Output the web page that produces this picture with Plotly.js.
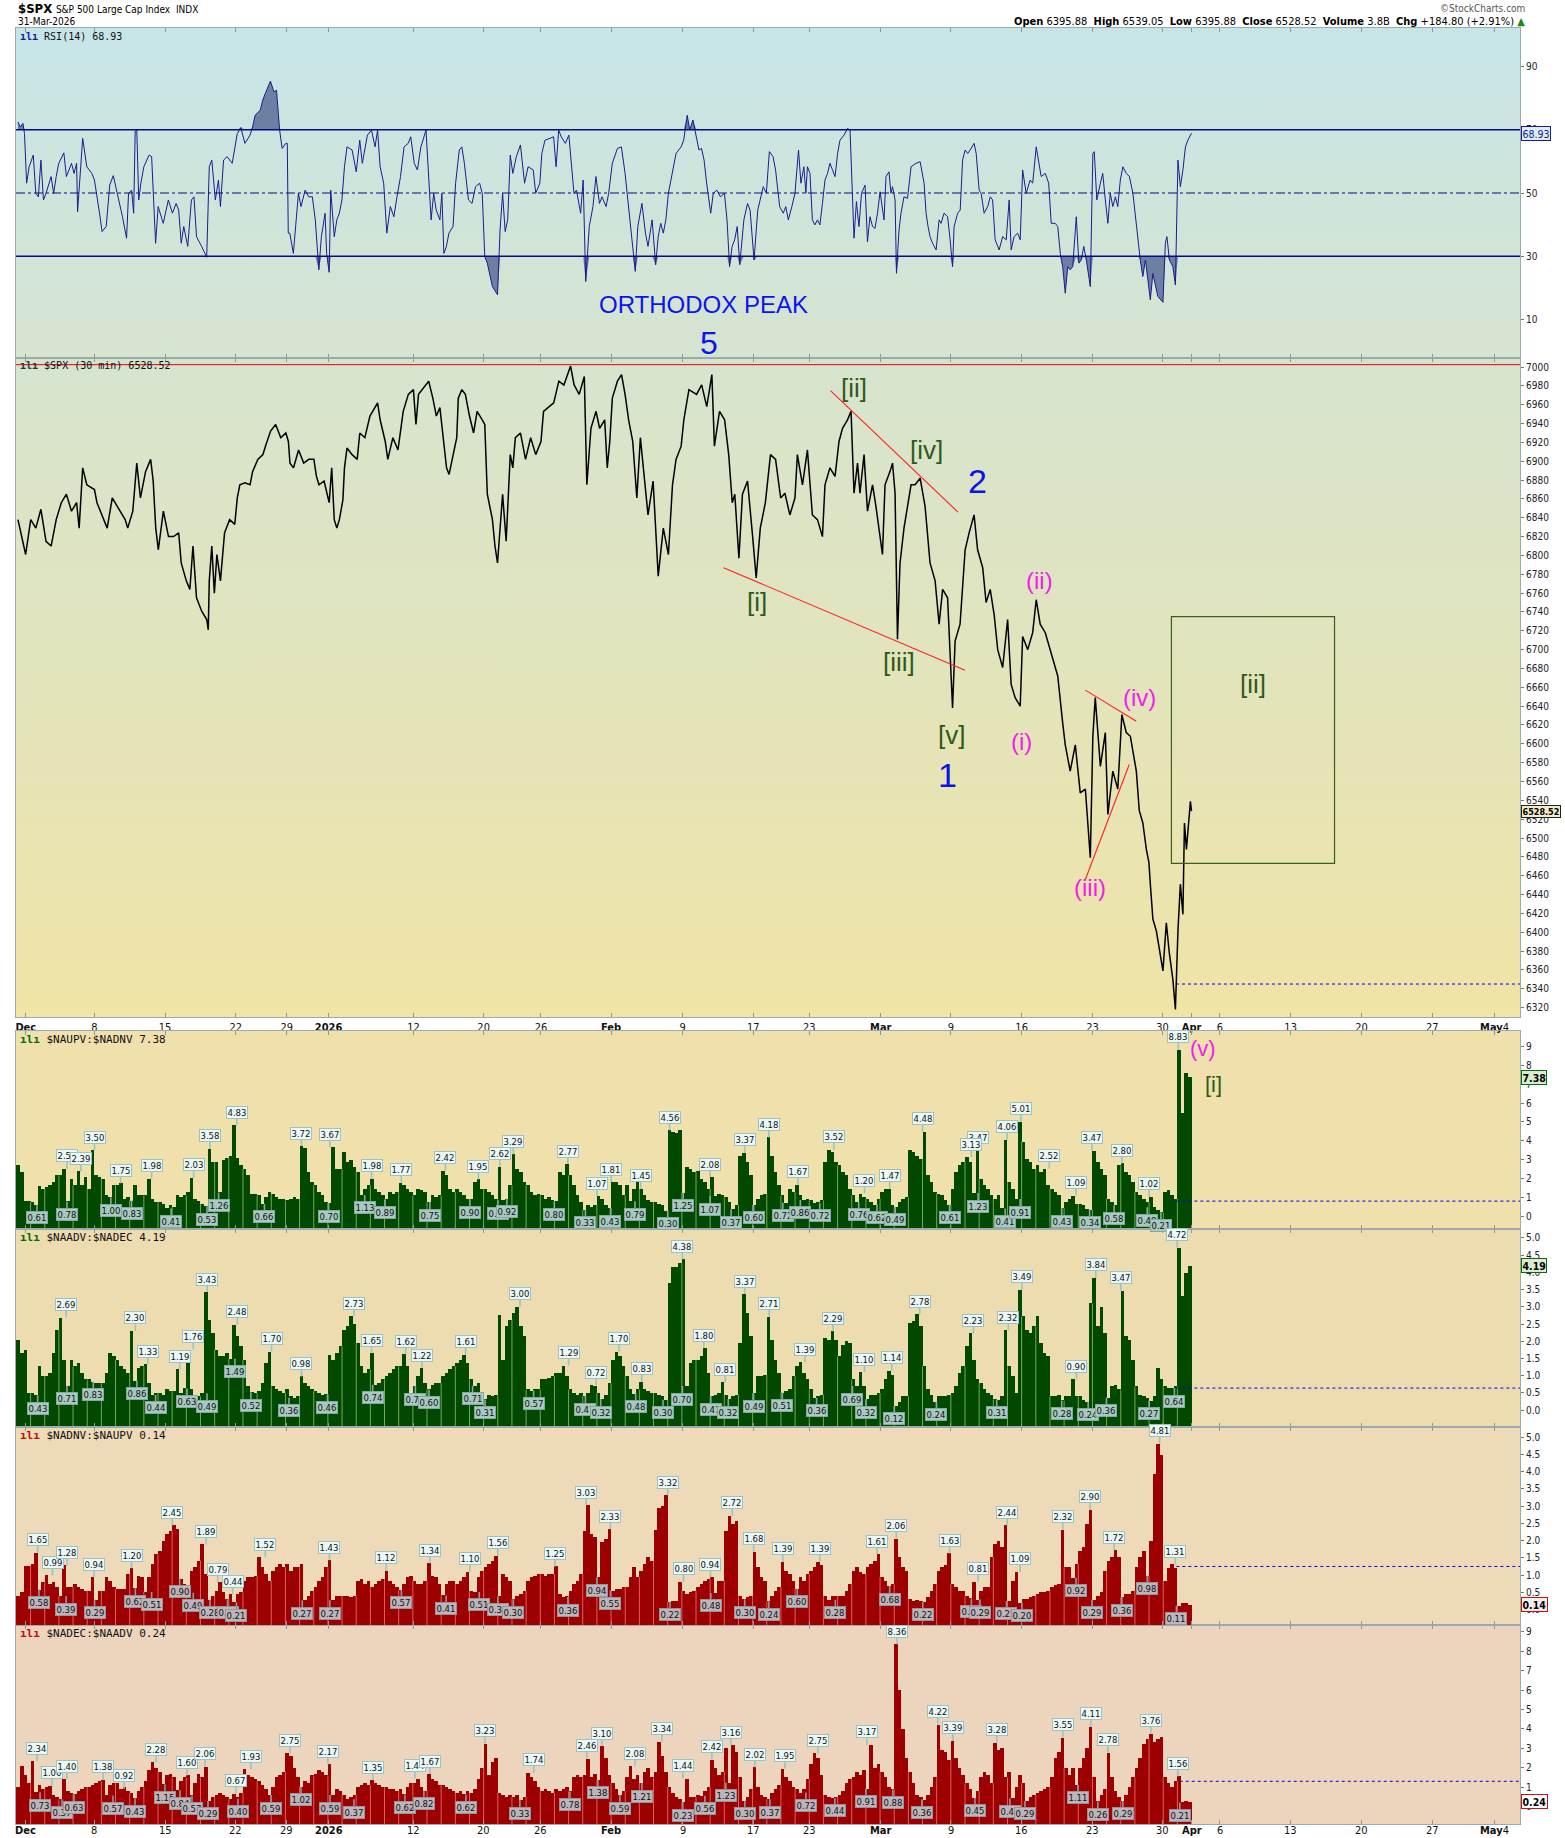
<!DOCTYPE html>
<html><head><meta charset="utf-8">
<script src="https://cdn.plot.ly/plotly-3.0.1.min.js"></script>
<style>html,body{margin:0;padding:0;background:#fff}#chart{width:1565px;height:1838px}</style>
</head><body><div id="chart"></div>
<script>
// ---------------- DATA (x in trading-day units from Dec 1, 2025) ----------------
const tickPos = [0.66,5.5,10.5,15.5,19.1,22.05,28.05,33.0,37.05,42.0,47.05,52.05,56.0,61.05,66.0,71.0,76.0,80.95,83.0,85.0,90.0,95.0,100.0,104.4];
const tickLbl = ['<b>Dec</b>','8','15','22','29','<b>2026</b>','12','20','26','<b>Feb</b>','9','17','23','<b>Mar</b>','9','16','23','30','<b>Apr</b>','6','13','20','27','<b>May</b>4'];

const spxPts = [[0.11,6838],[0.65,6801],[1.01,6838],[1.37,6829],[1.73,6849],[2.09,6815],[2.45,6810],[2.81,6838],[3.17,6856],[3.53,6865],[3.89,6847],[4.25,6856],[4.43,6829],[4.68,6893],[4.97,6875],[5.51,6870],[5.69,6856],[6.05,6843],[6.41,6829],[6.77,6861],[7.14,6852],[7.68,6838],[7.86,6829],[8.22,6847],[8.50,6898],[8.76,6861],[9.12,6889],[9.48,6902],[9.66,6879],[9.84,6829],[10.02,6806],[10.38,6847],[10.74,6820],[11.10,6820],[11.46,6824],[11.64,6792],[12.0,6773],[12.25,6764],[12.47,6810],[12.72,6755],[13.08,6741],[13.44,6732],[13.55,6721],[13.62,6773],[13.80,6810],[13.98,6760],[14.16,6801],[14.41,6773],[14.70,6824],[15.06,6838],[15.42,6833],[15.60,6861],[15.78,6875],[16.14,6877],[16.50,6875],[16.68,6889],[17.05,6902],[17.41,6907],[17.59,6916],[17.95,6932],[18.31,6939],[18.67,6925],[19.03,6930],[19.21,6921],[19.32,6898],[19.57,6893],[19.93,6912],[20.29,6898],[20.65,6902],[21.01,6902],[21.19,6884],[21.37,6875],[21.73,6879],[22.09,6856],[22.27,6893],[22.45,6838],[22.63,6829],[22.81,6838],[23.06,6859],[23.17,6893],[23.35,6914],[23.71,6907],[24.07,6902],[24.25,6930],[24.61,6925],[24.97,6948],[25.51,6962],[25.69,6944],[26.05,6921],[26.23,6902],[26.59,6925],[26.95,6912],[27.32,6953],[27.68,6971],[28.04,6976],[28.22,6939],[28.40,6971],[28.94,6981],[29.12,6985],[29.41,6967],[29.66,6948],[29.91,6957],[30.13,6930],[30.38,6893],[30.56,6886],[30.85,6907],[31.10,6925],[31.21,6967],[31.46,6976],[31.71,6971],[32.00,6948],[32.29,6930],[32.54,6953],[32.90,6944],[33.08,6939],[33.26,6865],[33.62,6838],[33.80,6810],[33.98,6792],[34.34,6865],[34.59,6815],[34.88,6907],[35.06,6893],[35.24,6925],[35.60,6930],[35.96,6902],[36.32,6925],[36.68,6907],[37.05,6921],[37.23,6953],[37.59,6958],[37.95,6962],[38.31,6985],[38.67,6981],[39.14,7001],[39.39,6981],[39.75,6971],[40.11,6990],[40.29,6875],[40.58,6935],[40.94,6953],[41.19,6935],[41.55,6944],[41.73,6893],[41.91,6921],[42.09,6967],[42.45,6985],[42.74,6992],[42.99,6971],[43.24,6944],[43.53,6921],[43.82,6861],[44.07,6925],[44.43,6875],[44.61,6843],[44.97,6879],[45.33,6778],[45.69,6829],[46.05,6801],[46.34,6875],[46.59,6902],[46.95,6916],[47.14,6944],[47.50,6976],[48.04,6971],[48.40,6981],[48.76,6958],[49.12,6992],[49.30,6916],[49.66,6953],[50.02,6944],[50.31,6907],[50.56,6856],[50.74,6865],[51.03,6797],[51.28,6865],[51.64,6879],[52.0,6820],[52.25,6776],[52.54,6829],[52.90,6856],[53.26,6907],[53.62,6902],[53.98,6861],[54.28,6866],[54.63,6843],[54.99,6861],[55.16,6907],[55.52,6875],[55.87,6912],[56.22,6843],[56.58,6838],[56.93,6820],[57.11,6875],[57.46,6893],[57.82,6884],[58.10,6921],[58.35,6935],[58.70,6944],[58.95,6953],[59.16,6866],[59.41,6898],[59.58,6866],[59.87,6907],[60.11,6847],[60.47,6875],[60.71,6852],[61.17,6801],[61.35,6875],[61.70,6889],[61.88,6898],[62.06,6866],[62.23,6711],[62.41,6792],[62.69,6829],[62.94,6852],[63.19,6875],[63.47,6875],[63.83,6882],[64.18,6852],[64.53,6792],[64.89,6773],[65.17,6727],[65.42,6764],[65.77,6755],[66.12,6638],[66.30,6709],[66.65,6727],[67.01,6806],[67.29,6824],[67.64,6843],[67.89,6806],[68.25,6787],[68.49,6750],[68.78,6764],[69.06,6737],[69.31,6700],[69.66,6681],[70.01,6732],[70.26,6663],[70.54,6649],[70.90,6640],[71.07,6714],[71.43,6700],[71.78,6718],[72.03,6753],[72.31,6727],[72.67,6718],[73.02,6700],[73.20,6691],[73.55,6672],[73.90,6622],[74.08,6599],[74.43,6571],[74.79,6599],[75.14,6548],[75.50,6552],[75.85,6479],[76.03,6608],[76.20,6649],[76.56,6576],[76.91,6612],[77.09,6525],[77.44,6571],[77.79,6552],[78.08,6631],[78.39,6612],[78.68,6608],[78.93,6585],[79.10,6571],[79.31,6529],[79.56,6516],[79.81,6488],[79.99,6474],[80.09,6451],[80.27,6414],[80.52,6401],[80.80,6373],[80.98,6359],[81.22,6410],[81.43,6378],[81.68,6350],[81.86,6318],[82.04,6401],[82.21,6451],[82.39,6419],[82.50,6516],[82.64,6488],[82.85,6525],[82.92,6539],[83.0,6528.52]];

const rsiPts = [[0.10,72.5],[0.28,70.9],[0.46,72.0],[0.57,68.8],[0.72,53.1],[0.90,58.3],[1.19,62.0],[1.37,49.9],[1.55,48.8],[1.73,60.4],[1.91,47.8],[2.09,49.9],[2.45,55.2],[2.63,49.9],[2.81,55.2],[2.99,59.4],[3.35,62.7],[3.53,55.2],[3.89,59.4],[4.07,56.2],[4.25,59.4],[4.32,44.1],[4.68,67.3],[4.97,58.3],[5.33,56.2],[5.51,54.1],[5.87,43.6],[6.05,37.8],[6.34,39.4],[6.59,52.5],[6.84,55.5],[7.13,49.9],[7.31,45.7],[7.49,42.5],[7.78,35.7],[7.92,49.9],[8.14,50.9],[8.28,43.6],[8.39,69.6],[8.50,69.9],[8.64,47.8],[8.79,53.1],[9.00,58.3],[9.37,62.0],[9.55,61.5],[9.83,34.1],[10.01,45.7],[10.37,40.4],[10.73,47.8],[11.02,43.6],[11.28,46.7],[11.46,44.6],[11.64,34.1],[11.82,39.4],[12.10,33.1],[12.36,47.8],[12.54,48.8],[12.72,36.2],[13.08,33.1],[13.44,29.7],[13.62,58.3],[13.80,60.4],[14.05,47.8],[14.27,54.1],[14.41,45.7],[14.63,60.4],[14.88,61.5],[15.06,60.4],[15.24,59.4],[15.60,68.8],[15.85,70.7],[16.14,65.7],[16.50,68.3],[16.68,70.9],[16.86,74.6],[17.22,76.2],[17.40,79.4],[17.58,81.5],[17.94,85.4],[18.19,82.0],[18.37,82.5],[18.59,69.9],[18.77,64.1],[19.02,65.7],[19.13,65.7],[19.20,37.3],[19.31,37.3],[19.56,30.9],[19.74,41.5],[19.92,49.9],[20.10,45.7],[20.39,50.9],[20.64,48.8],[20.90,48.8],[21.11,41.5],[21.36,25.7],[21.54,36.2],[21.80,43.6],[21.91,30.9],[22.09,24.9],[22.20,50.9],[22.45,36.2],[22.63,41.5],[22.81,43.6],[22.99,47.8],[23.17,58.3],[23.35,64.6],[23.71,63.6],[24.0,56.7],[24.25,66.7],[24.43,59.4],[24.79,68.3],[25.08,69.9],[25.33,64.6],[25.51,69.9],[25.69,58.3],[25.94,53.1],[26.16,37.3],[26.41,45.7],[26.66,42.5],[26.88,48.8],[27.13,55.2],[27.38,64.6],[27.67,65.7],[27.85,67.8],[28.10,59.4],[28.32,57.3],[28.57,64.6],[28.93,69.9],[29.11,56.2],[29.29,41.5],[29.47,49.9],[29.65,44.6],[29.91,41.5],[30.05,49.9],[30.19,30.9],[30.37,33.1],[30.55,37.3],[30.84,39.4],[31.02,53.1],[31.28,63.6],[31.46,64.6],[31.64,59.4],[31.93,47.8],[32.18,46.7],[32.43,52.0],[32.72,53.1],[32.90,49.9],[33.08,29.9],[33.26,27.8],[33.62,20.4],[33.98,17.8],[34.16,38.3],[34.34,49.9],[34.52,37.8],[34.70,41.5],[34.88,62.0],[35.06,56.2],[35.31,61.5],[35.60,65.2],[35.89,53.1],[36.14,58.3],[36.50,57.3],[36.68,49.9],[36.97,53.1],[37.11,62.5],[37.33,66.7],[37.69,67.3],[37.94,67.8],[38.12,58.3],[38.30,69.9],[38.48,67.8],[38.77,65.7],[39.02,68.3],[39.20,58.3],[39.38,49.9],[39.56,50.9],[39.85,43.6],[40.03,54.1],[40.21,22.0],[40.46,39.4],[40.72,45.7],[40.93,55.2],[41.18,46.7],[41.36,48.8],[41.65,45.7],[41.83,49.9],[42.09,59.4],[42.45,64.1],[42.73,64.6],[42.99,56.2],[43.24,45.7],[43.53,32.0],[43.71,25.2],[43.89,39.4],[44.18,46.7],[44.43,37.3],[44.61,33.1],[44.90,41.5],[45.15,27.3],[45.33,36.2],[45.51,40.4],[45.69,37.3],[45.87,41.5],[46.05,49.9],[46.34,56.7],[46.59,62.5],[46.95,64.6],[47.13,66.7],[47.38,74.6],[47.56,69.9],[47.78,73.1],[48.03,67.8],[48.21,63.6],[48.39,64.1],[48.57,60.4],[48.75,53.1],[49.04,43.6],[49.22,49.9],[49.47,50.9],[49.72,48.8],[50.01,49.9],[50.19,41.5],[50.37,26.7],[50.55,33.1],[50.73,35.2],[50.91,39.4],[51.09,27.3],[51.38,41.5],[51.64,46.7],[51.82,44.6],[52.0,34.6],[52.10,28.8],[52.36,44.6],[52.61,49.9],[52.75,52.0],[52.97,49.9],[53.18,63.1],[53.44,61.5],[53.62,57.3],[53.91,45.7],[54.16,43.6],[54.34,45.7],[54.52,41.5],[54.77,45.7],[54.99,49.9],[55.24,63.6],[55.41,53.1],[55.62,58.3],[55.76,49.9],[55.87,58.3],[56.05,56.2],[56.22,41.5],[56.40,39.9],[56.58,41.5],[56.75,39.9],[56.93,46.7],[57.11,54.1],[57.29,56.2],[57.46,59.4],[57.64,57.3],[57.82,55.2],[58.0,62.5],[58.17,66.7],[58.45,68.3],[58.70,70.4],[58.88,69.9],[58.98,58.3],[59.16,35.7],[59.33,47.3],[59.51,39.4],[59.69,49.9],[59.94,52.5],[60.11,34.6],[60.29,42.5],[60.47,39.4],[60.64,38.8],[60.82,43.6],[61.0,50.4],[61.28,41.5],[61.42,55.2],[61.63,56.7],[61.77,49.9],[61.88,52.0],[62.06,47.8],[62.16,24.6],[62.34,38.3],[62.48,43.6],[62.69,48.8],[62.94,48.3],[63.19,58.3],[63.54,59.4],[63.83,59.9],[64.11,53.1],[64.25,43.6],[64.39,39.4],[64.53,36.2],[64.71,34.1],[64.96,32.0],[65.17,41.5],[65.31,40.4],[65.52,43.6],[65.77,42.5],[65.95,35.2],[66.12,26.7],[66.23,39.4],[66.48,43.6],[66.66,44.6],[66.83,60.4],[67.01,63.6],[67.19,62.5],[67.36,63.6],[67.64,65.7],[67.79,62.5],[68.0,50.9],[68.14,49.9],[68.35,43.6],[68.60,45.7],[68.78,48.8],[68.95,47.8],[69.13,35.2],[69.41,32.0],[69.66,36.2],[69.91,35.2],[70.12,47.8],[70.26,32.0],[70.47,36.2],[70.72,37.3],[70.90,35.2],[71.07,57.3],[71.32,49.9],[71.60,54.1],[71.78,53.1],[72.03,64.6],[72.21,60.4],[72.38,55.2],[72.67,56.2],[72.91,53.1],[73.09,40.4],[73.37,40.4],[73.55,39.4],[73.73,30.9],[73.90,26.7],[74.08,18.3],[74.26,26.7],[74.43,25.7],[74.61,26.7],[74.86,42.5],[75.04,27.8],[75.21,28.8],[75.39,33.1],[75.57,28.8],[75.85,20.4],[76.03,62.5],[76.13,63.1],[76.31,47.8],[76.56,53.1],[76.73,56.2],[76.91,47.8],[77.09,40.4],[77.26,49.9],[77.44,45.7],[77.62,48.8],[77.79,45.7],[77.97,54.1],[78.15,58.3],[78.39,56.2],[78.61,55.2],[78.86,49.9],[79.03,42.5],[79.21,35.2],[79.38,28.8],[79.56,23.6],[79.74,28.8],[79.92,22.5],[80.09,16.2],[80.27,24.6],[80.45,20.4],[80.62,17.3],[80.98,15.4],[81.15,34.1],[81.26,36.2],[81.44,28.8],[81.68,26.7],[81.86,20.9],[82.04,60.4],[82.21,52.0],[82.39,57.3],[82.57,64.6],[82.74,66.7],[82.92,68.5],[83.0,68.93]];

// breadth ratios: 4 readings per trading day (83 days)
const naupv = [2.7,2.35,0.83,0.83, 0.75,0.61,1.6,1.45, 1.55,1.64,1.8,2.17, 2.17,2.52,0.78,2.0, 1.64,2.39,1.64,2.1, 1.45,3.5,2.17,2.1, 2.0,1.1,1.0,1.64, 1.64,1.75,0.92,1.0, 0.83,1.64,1.1,1.1, 1.1,1.98,0.92,0.75,
0.75,0.66,0.41,0.6, 0.5,1.1,1.0,1.1, 1.28,2.03,0.92,0.83, 0.66,0.53,3.58,2.87, 2.9,1.26,3.0,3.1, 3.2,4.83,3.1,2.7, 2.5,2.17,1.2,1.2, 1.1,0.66,1.0,1.28, 1.2,1.0,0.92,0.9, 0.84,0.9,1.0,0.92,
3.72,3.6,2.35,1.8, 1.64,1.28,1.1,0.75, 0.7,3.67,2.5,2.5, 3.4,2.87,2.96,2.6, 2.35,1.13,1.45,1.64, 1.98,1.45,1.28,1.1, 0.89,1.28,1.2,1.28, 1.77,1.64,1.45,1.28, 1.1,1.45,1.37,1.28, 0.75,1.1,1.0,1.1,
2.42,2.17,1.45,1.28, 1.45,1.28,1.1,0.92, 0.9,1.8,1.95,1.45, 1.45,1.28,1.1,0.9, 2.62,0.84,0.92,1.64, 3.29,2.5,2.35,1.8, 1.64,1.28,1.1,1.2, 1.1,0.92,1.0,0.85, 0.8,2.35,2.17,2.77, 2.17,1.64,1.1,0.75,
0.33,0.6,0.5,0.6, 1.07,0.9,0.6,0.43, 1.81,1.8,1.64,1.1, 1.64,0.79,1.45,1.8, 1.45,1.1,0.84,0.75, 0.75,0.66,0.6,0.3, 4.56,4.45,4.4,4.56, 1.25,2.6,2.5,2.35, 2.4,2.0,1.8,1.45, 2.08,1.07,1.2,1.1,
1.0,0.75,0.37,0.6, 3.2,3.37,2.87,2.17, 0.6,0.92,1.1,1.2, 4.18,3.2,2.35,1.64, 1.1,0.72,1.45,1.28, 1.67,1.1,0.86,0.92, 0.84,0.72,0.75,0.84, 2.87,3.52,3.4,2.87, 2.7,2.35,2.17,1.45, 1.1,0.76,1.2,1.0,
0.92,0.75,0.62,0.92, 1.28,1.45,1.47,0.6, 0.49,0.75,0.92,1.0, 3.5,3.4,3.2,3.05, 4.48,2.17,1.8,1.28, 1.2,1.1,0.84,0.61, 1.45,2.35,2.7,2.87, 3.13,2.87,1.23,3.47, 2.0,1.64,1.45,1.1, 0.92,1.1,0.41,4.06,
1.8,1.45,0.91,5.01, 3.95,3.05,2.87,2.5, 2.7,2.35,2.52,1.64, 1.45,1.28,1.1,0.43, 0.75,0.92,1.09,0.66, 0.66,0.6,0.4,0.34, 3.47,2.87,2.5,2.17, 0.92,0.75,0.58,2.7, 2.8,2.35,2.17,1.8, 1.28,1.1,0.92,0.75,
1.02,0.48,0.35,0.21, 1.28,1.37,1.1,0.92, 8.83,5.5,7.6,7.38];

const naadv = [2.05,1.66,1.76,0.5, 0.5,0.43,1.27,1.0, 1.0,1.08,1.66,2.34, 2.69,1.47,0.71,1.47, 1.27,1.37,1.08,0.89, 0.89,0.83,0.79,0.79, 0.79,1.08,1.66,1.56, 1.47,1.27,1.18,1.08, 2.3,0.86,1.23,1.27, 1.33,0.79,0.44,0.5,
0.5,0.45,0.6,0.55, 0.55,1.19,0.5,0.63, 1.76,0.6,0.45,0.4, 0.49,3.43,2.63,2.25, 1.76,1.56,1.56,1.66, 1.49,2.48,2.14,1.85, 1.47,0.69,0.52,0.5, 0.55,0.79,1.37,1.7, 0.69,0.6,0.55,0.5, 0.6,0.4,0.36,0.4,
0.98,0.79,0.69,0.6, 0.55,0.5,0.45,0.46, 1.6,1.47,1.66,1.85, 2.34,2.43,2.73,2.5, 1.95,1.27,1.08,1.18, 1.65,0.74,0.79,0.89, 0.99,1.08,1.18,1.27, 1.27,1.62,1.27,0.5, 0.7,0.99,1.22,0.79, 0.6,0.74,0.79,0.79,
0.99,1.08,1.18,1.27, 1.37,1.47,1.61,1.37, 0.89,0.71,0.79,0.4, 0.31,0.45,0.4,0.45, 2.77,1.47,2.43,2.63, 2.82,3.0,2.43,2.14, 0.6,0.57,0.6,0.6, 0.89,0.89,0.94,0.99, 1.08,1.08,1.29,0.99, 0.6,0.5,0.45,0.5,
0.41,0.5,0.72,0.69, 0.5,0.32,0.45,0.79, 1.47,1.7,1.56,1.27, 0.99,0.6,0.48,0.6, 0.83,0.6,0.55,0.5, 0.5,0.45,0.4,0.3, 3.69,4.17,4.17,4.27, 4.38,0.7,1.37,1.47, 1.47,1.56,1.8,1.08, 0.41,0.45,0.5,0.81,
0.45,0.32,0.4,0.45, 1.95,3.37,2.82,2.14, 0.49,0.99,0.99,1.03, 2.71,2.05,1.47,1.08, 0.51,0.55,0.6,0.99, 1.27,1.39,1.08,0.89, 0.6,0.36,0.4,0.45, 2.1,2.05,2.29,2.05, 1.56,1.9,2.0,1.95, 0.89,0.69,1.1,0.69,
0.32,0.45,0.45,0.5, 0.6,0.89,1.14,1.03, 0.12,0.25,0.4,0.4, 2.53,2.58,2.78,2.43, 1.27,0.6,0.45,0.24, 0.4,0.4,0.42,0.45, 0.5,0.69,1.08,1.27, 1.85,2.23,1.47,0.89, 0.79,0.6,0.5,0.45, 0.31,0.3,0.4,2.32,
1.27,0.99,0.5,3.49, 2.72,2.34,2.24,2.43, 2.72,1.95,1.66,1.56, 0.4,0.4,0.45,0.28, 0.4,0.4,0.9,0.4, 0.4,0.3,0.24,3.1, 3.84,2.43,3.0,2.24, 0.36,0.69,0.74,0.6, 3.47,2.14,2.05,1.47, 0.69,0.45,0.4,0.35,
0.27,0.4,1.23,0.89, 0.69,0.64,0.64,0.69, 4.72,3.3,3.98,4.19];

const nadnv = [0.4,0.5,1.27,1.27, 1.32,1.65,0.58,0.79, 0.99,0.74,0.79,0.65, 0.39,1.28,0.65,0.65, 0.74,0.65,0.6,0.55, 0.55,0.94,0.29,0.55, 0.55,0.94,0.84,0.65, 0.6,0.6,0.6,1.03, 1.2,0.62,0.98,0.94, 0.51,0.94,1.32,1.61,
1.71,2.0,2.19,2.29, 2.45,2.35,0.9,0.74, 0.49,1.13,1.23,1.42, 1.89,1.03,0.28,0.4, 0.55,0.79,0.5,0.3, 0.44,0.21,0.45,0.5, 0.84,0.94,0.94,0.98, 1.52,1.23,1.03,0.84, 1.13,1.23,1.32,1.23, 1.32,1.13,1.23,1.23,
1.32,0.27,0.4,0.55, 0.65,0.84,0.94,1.23, 1.43,0.27,0.4,0.4, 0.4,0.4,0.35,0.4, 0.84,0.89,0.74,0.84, 0.65,0.74,0.84,0.89, 1.12,0.84,0.74,0.65, 0.57,0.74,0.94,0.98, 0.84,0.74,0.74,0.84, 1.34,0.98,0.94,0.74,
0.41,0.74,0.84,0.84, 0.74,0.84,0.94,1.1, 0.55,0.51,0.94,1.13, 1.23,1.32,1.42,1.56, 0.38,1.03,0.94,0.84, 0.3,0.4,0.45,0.55, 0.84,0.94,0.98,1.03, 1.03,0.98,1.03,1.03, 1.25,0.45,0.36,0.4, 0.55,0.74,0.84,1.03,
2.29,3.03,2.19,2.1, 0.94,1.95,2.05,2.33, 0.55,0.6,0.6,0.65, 0.65,0.94,1.23,0.94, 1.13,1.32,1.52,1.42, 2.3,2.95,3.0,3.32, 0.22,0.25,0.25,0.8, 0.55,0.45,0.5,0.55, 0.65,0.74,0.84,0.89, 0.94,0.48,0.84,0.84,
2.29,2.72,2.48,2.58, 0.4,0.3,0.35,0.4, 1.68,1.23,0.94,0.84, 0.24,0.4,0.55,0.65, 1.39,1.13,1.03,0.84, 0.6,0.94,0.84,1.03, 1.13,1.23,1.39,1.28, 0.4,0.28,0.4,0.4, 0.4,0.4,0.55,0.74, 1.13,1.23,1.08,1.03,
1.23,1.32,1.42,1.61, 0.94,0.84,0.68,0.74, 2.06,1.52,1.23,1.13, 0.3,0.25,0.28,0.25, 0.22,0.35,0.55,0.74, 1.13,1.23,1.28,1.63, 0.74,0.65,0.55,0.55, 0.4,0.32,0.81,0.29, 0.55,0.65,0.65,1.52, 1.9,2.0,1.81,2.44,
0.25,0.84,1.09,0.2, 0.3,0.3,0.35,0.4, 0.45,0.5,0.5,0.55, 0.65,0.7,0.74,2.32, 1.23,1.23,0.92,1.32, 1.71,1.81,2.48,2.9, 0.29,0.4,0.5,1.13, 1.42,1.52,1.72,1.52, 0.36,0.45,0.45,0.55, 1.23,1.52,1.71,0.98,
2.0,3.93,4.81,4.5, 0.84,1.2,1.31,1.2, 0.11,0.2,0.18,0.14];

const nadec = [1.0,2.1,1.6,1.2, 2.34,0.73,1.1,0.9, 1.0,1.06,0.6,0.5, 0.37,1.4,0.8,0.7, 0.63,0.8,0.9,1.0, 1.0,1.1,1.2,1.3, 1.38,0.57,1.1,1.2, 1.2,0.92,1.0,0.8, 0.7,0.43,0.8,1.0, 1.3,1.9,2.28,2.0,
1.8,1.15,1.6,1.7, 1.5,0.84,1.3,1.5, 1.6,0.57,1.2,1.7, 1.5,2.06,0.29,0.5, 0.6,0.7,0.6,0.5, 0.4,0.67,0.5,0.7, 1.93,1.6,1.5,1.4, 1.3,1.1,0.9,0.59, 1.0,1.5,1.6,1.8, 2.75,2.6,2.0,1.5,
1.02,1.3,1.2,1.6, 1.7,1.9,1.8,1.6, 2.17,0.59,0.9,0.8, 0.6,0.37,0.5,0.6, 1.0,1.1,1.2,1.1, 1.35,1.2,1.1,1.0, 1.0,0.9,0.9,0.8, 0.9,0.62,1.0,1.2, 1.2,1.44,1.0,0.82, 1.67,1.4,1.3,1.1,
1.1,1.0,0.9,0.8, 0.7,0.8,0.62,0.8, 0.7,0.9,1.4,2.0, 3.23,1.6,2.3,2.5, 0.7,0.6,0.5,0.6, 0.5,0.6,0.33,0.5, 1.74,1.5,1.3,1.0, 0.8,0.9,0.8,0.7, 0.9,0.8,0.9,1.0, 0.78,1.5,1.6,1.5,
1.6,2.46,1.5,1.7, 1.38,3.1,2.5,1.6, 1.2,0.9,0.59,0.8, 1.5,2.08,1.4,1.6, 1.21,1.8,2.0,1.5, 1.8,3.34,2.6,1.8, 1.0,0.7,0.5,0.4, 0.23,1.44,0.5,0.5, 0.6,0.56,0.8,1.0, 2.42,2.0,1.6,1.8,
3.0,1.23,3.16,2.8, 1.5,0.3,0.5,0.9, 2.02,1.0,0.6,0.5, 0.37,0.7,0.9,1.1, 1.95,1.5,1.3,1.0, 0.9,0.72,0.9,1.4, 2.2,2.75,2.5,1.6, 0.6,0.5,0.44,0.5, 0.6,0.8,1.2,1.4, 1.5,1.8,1.6,1.9,
0.91,3.17,2.0,2.2, 1.8,1.5,1.0,0.88, 8.36,6.0,4.0,2.5, 1.8,1.2,0.6,0.5, 0.36,0.6,1.0,1.5, 4.22,2.9,2.8,2.4, 3.39,2.5,2.0,1.6, 1.2,0.9,0.45,0.8, 1.5,1.8,1.6,1.2, 3.28,2.9,3.0,1.5,
1.8,0.43,1.0,1.6, 1.2,0.29,0.5,0.6, 0.7,0.8,0.9,1.0, 1.5,2.5,2.8,3.55, 2.0,1.6,2.0,1.11, 2.0,2.5,3.0,4.11, 1.5,0.26,0.6,0.9, 2.78,1.5,0.8,0.5, 0.29,0.6,1.0,1.5, 2.0,2.5,3.2,3.5,
3.76,3.3,3.5,3.6, 1.5,1.2,1.0,1.3, 1.56,0.21,0.3,0.24];

// peak / trough labels  [x, value]
const naupvHi = [[3.57,2.52],[4.55,2.39],[5.52,3.50],[7.36,1.75],[9.55,1.98],[12.52,2.03],[13.67,3.58],[15.57,4.83],[20.13,3.72],[22.14,3.67],[25.08,1.98],[27.19,1.77],[30.30,2.42],[32.63,1.95],[34.14,2.62],[35.10,3.29],[38.95,2.77],[41.0,1.07],[42.01,1.81],[44.1,1.45],[46.13,4.56],[49.0,2.08],[51.44,3.37],[53.14,4.18],[55.2,1.67],[57.73,3.52],[59.9,1.20],[61.68,1.47],[64.0,4.48],[67.92,3.47],[67.45,3.13],[69.98,4.06],[70.94,5.01],[72.95,2.52],[74.84,1.09],[75.97,3.47],[78.08,2.80],[80.01,1.02],[82.07,8.83]];
const naupvLo = [[1.45,0.61],[3.57,0.78],[6.67,1.00],[8.13,0.83],[10.93,0.41],[13.46,0.53],[14.28,1.26],[17.52,0.66],[22.05,0.70],[24.6,1.13],[26.04,0.89],[29.2,0.75],[32.03,0.90],[34.0,0.84],[34.64,0.92],[37.99,0.80],[40.19,0.33],[41.96,0.43],[43.69,0.79],[46.0,0.30],[47.1,1.25],[49.0,1.07],[50.48,0.37],[52.07,0.60],[54.13,0.72],[55.37,0.86],[56.74,0.72],[59.49,0.76],[60.78,0.62],[62.07,0.49],[65.91,0.61],[67.92,1.23],[69.84,0.41],[70.89,0.91],[73.83,0.43],[75.8,0.34],[77.53,0.58],[79.87,0.48],[80.83,0.21]];
const naadvHi = [[3.51,2.69],[8.40,2.30],[9.28,1.33],[11.53,1.19],[12.49,1.76],[13.48,3.43],[15.6,2.48],[18.02,1.70],[20.13,0.98],[23.84,2.73],[25.08,1.65],[27.49,1.62],[28.65,1.22],[31.72,1.61],[35.57,3.00],[39.0,1.29],[40.95,0.72],[42.56,1.70],[44.16,0.83],[47.04,4.38],[48.55,1.80],[50.06,0.81],[51.44,3.37],[53.17,2.71],[55.7,1.39],[57.67,2.29],[59.9,1.10],[61.82,1.14],[63.8,2.78],[67.59,2.23],[70.06,2.32],[71.02,3.49],[74.87,0.90],[76.24,3.84],[78.0,3.47],[81.99,4.72]];
const naadvLo = [[1.5,0.43],[3.57,0.71],[5.43,0.83],[8.51,0.86],[9.83,0.44],[12.05,0.63],[13.46,0.49],[15.43,1.49],[16.56,0.52],[19.25,0.36],[21.97,0.46],[25.16,0.74],[28.18,0.70],[29.14,0.60],[32.22,0.71],[33.1,0.31],[36.53,0.57],[40.19,0.41],[41.27,0.32],[43.74,0.48],[45.67,0.30],[47.04,0.70],[49.05,0.41],[50.28,0.32],[52.07,0.49],[54.1,0.51],[56.52,0.36],[59.05,0.69],[60.01,0.32],[62.01,0.12],[64.98,0.24],[69.24,0.31],[73.83,0.28],[75.7,0.24],[76.99,0.36],[80.01,0.27],[81.79,0.64]];
const nadnvHi = [[1.5,1.65],[2.55,0.99],[3.59,1.28],[5.49,0.94],[8.13,1.20],[11.01,2.45],[13.4,1.89],[14.22,0.79],[15.27,0.44],[17.58,1.52],[22.11,1.43],[26.12,1.12],[29.2,1.34],[32.03,1.10],[34.0,1.56],[38.04,1.25],[40.24,3.03],[41.96,2.33],[46.0,3.32],[47.12,0.80],[49.02,0.94],[50.56,2.72],[52.07,1.68],[54.13,1.39],[56.74,1.39],[60.78,1.61],[62.15,2.06],[65.91,1.63],[67.92,0.81],[69.98,2.44],[70.89,1.09],[73.91,2.32],[75.83,2.90],[77.53,1.72],[80.75,4.81],[81.85,1.31]];
const nadnvLo = [[1.59,0.58],[3.51,0.39],[5.52,0.29],[8.4,0.62],[9.55,0.51],[11.53,0.90],[12.49,0.49],[13.67,0.28],[14.91,0.30],[15.54,0.21],[20.19,0.27],[22.14,0.27],[27.19,0.57],[30.35,0.41],[32.69,0.51],[34.0,0.38],[35.1,0.30],[38.95,0.36],[41.01,0.94],[41.96,0.55],[46.16,0.22],[49.05,0.48],[51.44,0.30],[53.14,0.24],[55.15,0.60],[57.84,0.28],[61.68,0.68],[64.02,0.22],[67.45,0.32],[68.06,0.29],[69.93,0.25],[71.02,0.20],[74.84,0.92],[75.97,0.29],[78.08,0.36],[79.87,0.98],[81.93,0.11]];
const nadecHi = [[1.45,2.34],[2.51,1.06],[3.57,1.40],[6.12,1.38],[7.6,0.92],[9.86,2.28],[12.05,1.60],[13.32,2.06],[15.51,0.67],[16.57,1.93],[19.32,2.75],[22.0,2.17],[25.18,1.35],[28.15,1.44],[29.2,1.67],[33.09,3.23],[36.55,1.74],[40.3,2.46],[41.36,3.10],[43.69,2.08],[45.59,3.34],[47.07,1.44],[49.12,2.42],[50.46,3.16],[52.16,2.02],[54.28,1.95],[56.61,2.75],[60.07,3.17],[62.19,8.36],[65.08,4.22],[66.14,3.39],[69.25,3.28],[73.91,3.55],[75.89,4.11],[77.09,2.78],[80.13,3.76],[82.03,1.56]];
const nadecLo = [[1.67,0.73],[3.22,0.37],[4.07,0.63],[6.82,0.57],[8.38,0.43],[10.49,1.15],[11.55,0.84],[12.4,0.57],[13.53,0.29],[15.65,0.40],[17.98,0.59],[20.1,1.02],[22.15,0.59],[23.84,0.37],[27.44,0.62],[28.78,0.82],[31.75,0.62],[35.56,0.33],[39.1,0.78],[41.07,1.38],[42.62,0.59],[44.18,1.21],[47.07,0.23],[48.63,0.56],[50.11,1.23],[51.45,0.30],[53.22,0.37],[55.76,0.72],[57.81,0.44],[60.0,0.91],[61.9,0.88],[63.95,0.36],[67.7,0.45],[70.17,0.43],[71.23,0.29],[74.97,1.11],[76.38,0.26],[78.15,0.29],[82.17,0.21]];

// Elliott-wave labels on price  [x, price, text]
const waveGreen = [[59.16,6978,'[ii]'],[64.28,6912,'[iv]'],[62.34,6687,'[iii]'],[66.05,6609,'[v]'],[52.29,6751,'[i]'],[87.34,6663,'[ii]']];
const waveMagenta = [[72.24,6773,'(ii)'],[71.0,6602,'(i)'],[79.32,6649,'(iv)'],[75.85,6447,'(iii)']];
const waveBlue = [[67.89,6879,'2'],[65.77,6567,'1']];
const trendLines = [[57.5,6975,66.5,6846],[49.95,6787,67.0,6678],[75.5,6657,79.1,6624],[75.5,6456,78.6,6578]];

// ---------------- BUILD ----------------
const W=1565,H=1838,ML=16,MR=45,MT=28,MB=14;
const PW=W-ML-MR, PH=H-MT-MB;
const fx = X => (X-ML)/PW;
const fy = Y => (H-MB-Y)/PH;
const XR=[-0.03,106.2];
const BORDER='#9aabab';
const NARROW="'Liberation Sans Narrow','Arial Narrow','DejaVu Sans Condensed','Roboto Condensed',sans-serif";
const MONO="'DejaVu Sans Mono','Liberation Mono',monospace";

const dom = {
  rsi:[fy(358),1], spx:[fy(1017),fy(358)], up:[fy(1229),fy(1031)],
  adv:[fy(1427),fy(1229)], dnv:[fy(1625),fy(1427)], dec:[0,fy(1625)]
};
const YR = {rsi:[-2.2,102.2], spx:[6310,7009.6], up:[-0.68,9.83], adv:[-0.49,5.26], dnv:[-0.45,5.30], dec:[-0.9,9.35]};

const traces=[];
// RSI
const rT=rsiPts.map(p=>p[0]), rV=rsiPts.map(p=>p[1]);
const fillC='#6d80a3';
traces.push({x:rT,y:rT.map(()=>70),mode:'lines',line:{width:0},xaxis:'x6',yaxis:'y',hoverinfo:'skip'});
traces.push({x:rT,y:rV.map(v=>Math.max(v,70)),mode:'lines',line:{width:0},fill:'tonexty',fillcolor:fillC,xaxis:'x6',yaxis:'y',hoverinfo:'skip'});
traces.push({x:rT,y:rT.map(()=>30),mode:'lines',line:{width:0},xaxis:'x6',yaxis:'y',hoverinfo:'skip'});
traces.push({x:rT,y:rV.map(v=>Math.min(v,30)),mode:'lines',line:{width:0},fill:'tonexty',fillcolor:fillC,xaxis:'x6',yaxis:'y',hoverinfo:'skip'});
traces.push({x:rT,y:rV,mode:'lines',line:{color:'#1c1c8e',width:1},xaxis:'x6',yaxis:'y',hoverinfo:'skip'});
// SPX
traces.push({x:spxPts.map(p=>p[0]),y:spxPts.map(p=>p[1]),mode:'lines',line:{color:'#000',width:1.5},xaxis:'x2',yaxis:'y2',hoverinfo:'skip'});

function bars(vals, xa, ya, ymin, color, sepColor){
  const x = vals.map((_,i)=>Math.floor(i/4)+((i%4)+0.5)/4);
  traces.push({type:'bar',x,y:vals.map(v=>v-ymin),base:ymin,width:0.25,marker:{color,line:{width:0}},xaxis:xa,yaxis:ya,hoverinfo:'skip'});
  const sx=[],sy=[];
  for(let k=1;k<vals.length/4;k++){ sx.push(k,k,null); sy.push(ymin, Math.min(vals[4*k-1],vals[4*k]), null); }
  traces.push({x:sx,y:sy,mode:'lines',line:{color:sepColor,width:1},xaxis:xa,yaxis:ya,hoverinfo:'skip'});
}
const G='#014801', RD='#9c0000';
bars(naupv,'x3','y3',YR.up[0],G,'rgba(130,190,100,0.85)');
bars(naadv,'x4','y4',YR.adv[0],G,'rgba(130,190,100,0.85)');
bars(nadnv,'x5','y5',YR.dnv[0],RD,'rgba(240,110,110,0.85)');
bars(nadec,'x','y6',YR.dec[0],RD,'rgba(240,110,110,0.85)');

// backgrounds
function grad(c1,c2){
  const svg=`<svg xmlns="http://www.w3.org/2000/svg" width="10" height="100" viewBox="0 0 10 100" preserveAspectRatio="none"><defs><linearGradient id="g" x1="0" y1="0" x2="0" y2="1"><stop offset="0" stop-color="${c1}"/><stop offset="1" stop-color="${c2}"/></linearGradient></defs><rect x="0" y="0" width="10" height="100" fill="url(#g)"/></svg>`;
  return 'data:image/svg+xml;charset=utf-8,'+encodeURIComponent(svg);
}
const bgs=[[dom.rsi,'#c6e5e7','#d6e4cf'],[dom.spx,'#d6e4cf','#f0e4a6'],[dom.up,'#f0e1ac','#f0e1ac'],[dom.adv,'#eedcb1','#eedcb1'],[dom.dnv,'#eed9b8','#eed9b8'],[dom.dec,'#edd5bd','#edd5bd']];
const images=bgs.map(b=>({source:grad(b[1],b[2]),xref:'paper',yref:'paper',x:0,y:b[0][1],sizex:1,sizey:b[0][1]-b[0][0],xanchor:'left',yanchor:'top',sizing:'stretch',layer:'below'}));

// shapes
const shapes=[
  {type:'line',xref:'paper',yref:'y',x0:0,x1:1,y0:70,y1:70,line:{color:'#0a0a80',width:1.5}},
  {type:'line',xref:'paper',yref:'y',x0:0,x1:1,y0:30,y1:30,line:{color:'#0a0a80',width:1.5}},
  {type:'line',xref:'paper',yref:'y',x0:0,x1:1,y0:50,y1:50,line:{color:'#0a0a80',width:1.2,dash:'dashdot'}},
  {type:'line',xref:'paper',yref:'y2',x0:0,x1:1,y0:7002.5,y1:7002.5,line:{color:'#e00000',width:1}},
  {type:'line',xref:'x2',yref:'y2',x0:81.9,x1:XR[1],y0:6345,y1:6345,line:{color:'#0000ee',width:1,dash:'dot'}},
  {type:'rect',xref:'x2',yref:'y2',x0:81.58,x1:93.1,y0:6473,y1:6735,line:{color:'#3a6020',width:1.2}},
  {type:'line',xref:'x3',yref:'y3',x0:81.93,x1:XR[1],y0:0.8,y1:0.8,line:{color:'#0000ee',width:1,dash:'dot'}},
  {type:'line',xref:'x4',yref:'y4',x0:81.93,x1:XR[1],y0:0.64,y1:0.64,line:{color:'#0000ee',width:1,dash:'dot'}},
  {type:'line',xref:'x5',yref:'y5',x0:81.93,x1:XR[1],y0:1.25,y1:1.25,line:{color:'#0000ee',width:1,dash:'dot'}},
  {type:'line',xref:'x',yref:'y6',x0:82.17,x1:XR[1],y0:1.3,y1:1.3,line:{color:'#0000ee',width:1,dash:'dot'}}
];
trendLines.forEach(t=>shapes.push({type:'line',xref:'x2',yref:'y2',x0:t[0],y0:t[1],x1:t[2],y1:t[3],line:{color:'#ff2020',width:1.1}}));

// annotations
const ann=[];
function label(list, hi, xa, ya, red){
  list.forEach(p=>{
    const bg = hi ? '#eaf8f7' : (red ? '#bcb5bb' : '#a8c8c1');
    const bc = hi ? '#9cc2c2' : (red ? '#9a949a' : '#84a9a1');
    ann.push({x:p[0],y:p[1],xref:xa,yref:ya,text:p[1].toFixed(2),showarrow:true,arrowhead:0,arrowwidth:1.6,arrowcolor:bc,ax:0,ay:hi?-13:13,
      font:{family:'DejaVu Sans, Verdana, sans-serif',size:8.5,color:'#111'},bgcolor:bg,bordercolor:bc,borderwidth:1,borderpad:0.5});
  });
}
label(naupvHi,true,'x3','y3',false); label(naupvLo,false,'x3','y3',false);
label(naadvHi,true,'x4','y4',false); label(naadvLo,false,'x4','y4',false);
label(nadnvHi,true,'x5','y5',true); label(nadnvLo,false,'x5','y5',true);
label(nadecHi,true,'x','y6',true); label(nadecLo,false,'x','y6',true);

const ARIAL="'Liberation Sans',Arial,sans-serif";
waveGreen.forEach(w=>ann.push({x:w[0],y:w[1],xref:'x2',yref:'y2',text:w[2],showarrow:false,font:{family:ARIAL,size:26,color:'#2f5a1c'}}));
waveMagenta.forEach(w=>ann.push({x:w[0],y:w[1],xref:'x2',yref:'y2',text:w[2],showarrow:false,font:{family:ARIAL,size:24,color:'#f020f0'}}));
waveBlue.forEach(w=>ann.push({x:w[0],y:w[1],xref:'x2',yref:'y2',text:w[2],showarrow:false,font:{family:ARIAL,size:34,color:'#0a14e6'}}));
ann.push({x:48.5,y:14.7,xref:'x6',yref:'y',text:'ORTHODOX PEAK',showarrow:false,font:{family:ARIAL,size:24,color:'#0a14f0'}});
ann.push({x:48.9,y:2.7,xref:'x6',yref:'y',text:'5',showarrow:false,font:{family:ARIAL,size:32,color:'#0a14f0'}});
ann.push({x:83.78,y:8.92,xref:'x3',yref:'y3',text:'(v)',showarrow:false,font:{family:ARIAL,size:22,color:'#f020f0'}});
ann.push({x:84.53,y:7.0,xref:'x3',yref:'y3',text:'[i]',showarrow:false,font:{family:ARIAL,size:22,color:'#2f5a1c'}});

// panel titles
function ptitle(Y,txt,size,iconColor){
  ann.push({x:fx(18),y:fy(Y),xref:'paper',yref:'paper',xanchor:'left',yanchor:'middle',showarrow:false,
    text:`<span style="color:${iconColor}"><b>ılı</b></span> ${txt}`,font:{family:MONO,size:size,color:'#111'}});
}
ptitle(36,'RSI(14) 68.93',10,'#1c1c8e');
ptitle(365,'$SPX (30 min) 6528.52',10,'#333');
ptitle(1039,'$NAUPV:$NADNV 7.38',11,'#0a6a0a');
ptitle(1237,'$NAADV:$NADEC 4.19',11,'#0a6a0a');
ptitle(1435,'$NADNV:$NAUPV 0.14',11,'#c01010');
ptitle(1633,'$NADEC:$NAADV 0.24',11,'#c01010');

// current value tags on right axis
function tag(y,ya,txt,bg,bc,fc,bold,size){
  ann.push({x:1,y:y,xref:'paper',yref:ya,xanchor:'left',yanchor:'middle',xshift:1,showarrow:false,text:bold?`<b>${txt}</b>`:txt,
    font:{family:NARROW,size:size||10.5,color:fc},bgcolor:bg,bordercolor:bc,borderwidth:1,borderpad:0.5});
}
tag(68.93,'y','68.93','#dcedee','#1a1aa0','#1a1aa0',false);
tag(6528.52,'y2','6528.52','#f3ecc6','#222','#000',true,9);
tag(7.38,'y3','7.38','#d9ecd2','#0a6a0a','#000',true);
tag(4.19,'y4','4.19','#d9ecd2','#0a6a0a','#000',true);
tag(0.14,'y5','0.14','#f6eeee','#d01010','#000',true);
tag(0.24,'y6','0.24','#ffffff','#d01010','#000',true);

// header
ann.push({x:fx(16),y:fy(9),xref:'paper',yref:'paper',xanchor:'left',yanchor:'middle',showarrow:false,
  text:'<b>$SPX</b> <span style="font-size:10px">S&amp;P 500 Large Cap Index  INDX</span>',font:{family:NARROW,size:13,color:'#000'}});
ann.push({x:fx(16),y:fy(21),xref:'paper',yref:'paper',xanchor:'left',yanchor:'middle',showarrow:false,
  text:'31-Mar-2026',font:{family:NARROW,size:10,color:'#000'}});
ann.push({x:fx(1527),y:fy(9),xref:'paper',yref:'paper',xanchor:'right',yanchor:'middle',showarrow:false,
  text:'©StockCharts.com',font:{family:NARROW,size:10,color:'#555'}});
ann.push({x:fx(1527),y:fy(21),xref:'paper',yref:'paper',xanchor:'right',yanchor:'middle',showarrow:false,
  text:'<b>Open</b> 6395.88  <b>High</b> 6539.05  <b>Low</b> 6395.88  <b>Close</b> 6528.52  <b>Volume</b> 3.8B  <b>Chg</b> +184.80 (+2.91%) <span style="color:#1a8a1a">▲</span>',
  font:{family:NARROW,size:11,color:'#000'}});

// bottom date labels (placed tight under the last panel, as in the reference)
const tickFont={family:NARROW,size:11,color:'#111'};
tickPos.forEach((p,i)=>ann.push({x:p,y:fy(1830),xref:'x',yref:'paper',yanchor:'middle',showarrow:false,text:tickLbl[i],font:tickFont}));

// axes
const yFont={family:NARROW,size:10,color:'#222'};
function xa(anchor,labels){
  return {domain:[0,1],range:XR,anchor,tickmode:'array',tickvals:tickPos,ticktext:tickLbl,showticklabels:labels,
    ticks:'inside',ticklen:4,tickcolor:'#8a9a9a',showline:true,linecolor:BORDER,linewidth:1,mirror:'ticks',
    showgrid:false,zeroline:false,tickfont:tickFont,fixedrange:true};
}
function ya(d,r,anchor,extra){
  return Object.assign({domain:d,range:r,anchor,side:'right',ticks:'outside',ticklen:3,tickcolor:'#777',showline:true,linecolor:BORDER,linewidth:1,mirror:true,
    showgrid:false,zeroline:false,tickfont:yFont,fixedrange:true},extra);
}
const layout={
  width:W,height:H,margin:{l:ML,r:MR,t:MT,b:MB,pad:0},
  paper_bgcolor:'#ffffff',plot_bgcolor:'rgba(0,0,0,0)',showlegend:false,bargap:0,barmode:'overlay',
  xaxis:xa('y6',false),
  xaxis2:Object.assign(xa('y2',true),{matches:'x'}),
  xaxis3:Object.assign(xa('y3',false),{matches:'x'}),
  xaxis4:Object.assign(xa('y4',false),{matches:'x'}),
  xaxis5:Object.assign(xa('y5',false),{matches:'x'}),
  xaxis6:Object.assign(xa('y',false),{matches:'x'}),
  yaxis:ya(dom.rsi,YR.rsi,'x6',{tickmode:'array',tickvals:[10,30,50,70,90]}),
  yaxis2:ya(dom.spx,YR.spx,'x2',{tick0:6300,dtick:20}),
  yaxis3:ya(dom.up,YR.up,'x3',{tick0:0,dtick:1}),
  yaxis4:ya(dom.adv,YR.adv,'x4',{tick0:0,dtick:0.5,tickformat:'.1f'}),
  yaxis5:ya(dom.dnv,YR.dnv,'x5',{tick0:0,dtick:0.5,tickformat:'.1f'}),
  yaxis6:ya(dom.dec,YR.dec,'x',{tick0:0,dtick:1}),
  images,shapes,annotations:ann,hovermode:false
};
Plotly.newPlot('chart',traces,layout,{staticPlot:true,displayModeBar:false});
</script></body></html>
